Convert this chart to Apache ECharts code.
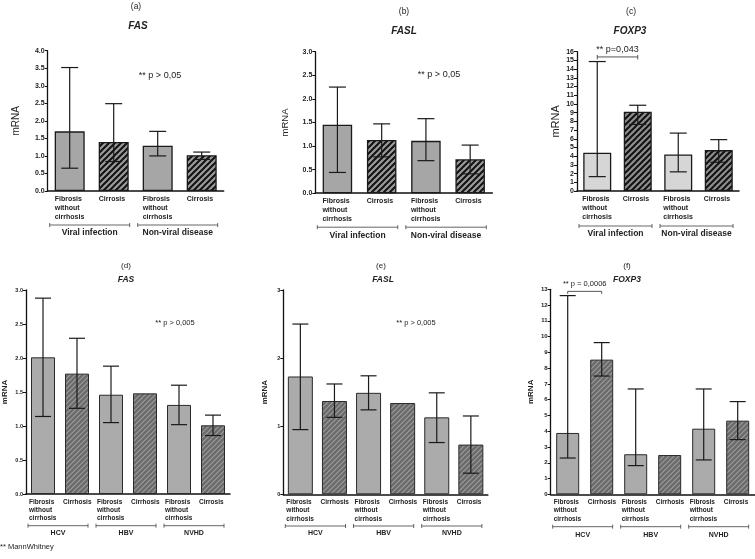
<!DOCTYPE html>
<html><head><meta charset="utf-8">
<script src="https://cdn.jsdelivr.net/npm/echarts@6/dist/echarts.min.js"></script>
<style>html,body{margin:0;padding:0;background:#fff}#c{width:755px;height:559px}</style>
</head><body><div id="c"></div>
<script>
// ---------- data ----------
const catsTop = ['Fibrosis\nwithout\ncirrhosis', 'Cirrosis', 'Fibrosis\nwithout\ncirrhosis', 'Cirrosis'];
const catsBottom = ['Fibrosis\nwithout\ncirrhosis', 'Cirrhosis', 'Fibrosis\nwithout\ncirrhosis', 'Cirrhosis', 'Fibrosis\nwithout\ncirrhosis', 'Cirrosis'];
const groupsTop = ['Viral infection', 'Non-viral disease'];
const groupsTopStart = [0, 2];
const groupsTopEnd = [1, 3];
const groupsBottom = ['HCV', 'HBV', 'NVHD'];
const groupsBottomStart = [0, 2, 4];
const groupsBottomEnd = [1, 3, 5];

const aMean = [1.70, 1.40, 1.29, 1.02];
const aLow  = [0.65, 0.84, 1.00, 0.90];
const aHigh = [3.52, 2.49, 1.70, 1.11];

const bMean = [1.45, 1.13, 1.11, 0.72];
const bLow  = [0.44, 0.77, 0.69, 0.41];
const bHigh = [2.25, 1.47, 1.58, 1.02];

const cMean = [4.4, 9.1, 4.2, 4.7];
const cLow  = [1.65, 7.65, 2.2, 3.3];
const cHigh = [14.87, 9.85, 6.65, 5.9];

const dMean = [2.01, 1.77, 1.46, 1.48, 1.31, 1.01];
const dLow  = [1.14, 1.26, 1.05, null, 1.02, 0.86];
const dHigh = [2.88, 2.29, 1.88, null, 1.60, 1.16];

const eMean = [1.73, 1.37, 1.49, 1.34, 1.13, 0.73];
const eLow  = [0.95, 1.13, 1.24, null, 0.76, 0.31];
const eHigh = [2.50, 1.62, 1.74, null, 1.49, 1.15];

const fMean = [3.89, 8.54, 2.54, 2.49, 4.16, 4.67];
const fLow  = [2.30, 7.50, 1.82, null, 2.18, 3.47];
const fHigh = [12.6, 9.62, 6.68, null, 6.68, 5.88];

const cBracket = [[0, 1, 15.4]];
const cBracketText = ['** p=0,043'];
const fBracket = [[0, 1, 12.87]];
const fBracketText = ['** p = 0,0006'];

const yMax = [4, 3, 16, 3, 3, 13];
const yInterval = [0.5, 0.5, 1, 0.5, 1, 1];

// ---------- styling ----------
const FONT = "'Liberation Sans', Arial, Helvetica, sans-serif";
function hatch(bg, fg, s, lw) {
  const c = document.createElement('canvas');
  c.width = s; c.height = s;
  const ctx = c.getContext('2d');
  ctx.fillStyle = bg; ctx.fillRect(0, 0, s, s);
  ctx.strokeStyle = fg; ctx.lineWidth = lw;
  ctx.beginPath();
  ctx.moveTo(0, s); ctx.lineTo(s, 0);
  ctx.moveTo(-1, 1); ctx.lineTo(1, -1);
  ctx.moveTo(s - 1, s + 1); ctx.lineTo(s + 1, s - 1);
  ctx.stroke();
  return { image: c, repeat: 'repeat' };
}
const hatchTop = hatch('#9b9b9b', '#111111', 6, 2);
const hatchC = hatch('#8e8e8e', '#111111', 6, 2);
const hatchBottom = hatch('#6a6a6a', '#9c9c9c', 5, 1.2);

const panels = [
  {mean: aMean, low: aLow, high: aHigh, cats: catsTop, grid: {left: 47.7, top: 50.7, width: 176, height: 140.3}, bw: 30, solid: '#a6a6a6', hatch: hatchTop, hIdx: [1, 3], fmt: v => v.toFixed(1), tickFs: 7, nameFs: 10, nameBold: false, nameGap: 26, labW: 30, labFs: 7, labLH: 8.7, border: '#1a1a1a', bwid: 1.3, cap: 17, gOff: 34, gTxt: 8, gFs: 8.5},
  {mean: bMean, low: bLow, high: bHigh, cats: catsTop, grid: {left: 315.3, top: 51.7, width: 177, height: 141.5}, bw: 29.5, solid: '#a6a6a6', hatch: hatchTop, hIdx: [1, 3], fmt: v => v.toFixed(1), tickFs: 7, nameFs: 9.5, nameBold: false, nameGap: 25, labW: 30, labFs: 7, labLH: 8.7, border: '#1a1a1a', bwid: 1.3, cap: 17, gOff: 34, gTxt: 8.5, gFs: 8.5},
  {mean: cMean, low: cLow, high: cHigh, cats: catsTop, grid: {left: 577, top: 51.7, width: 162, height: 139.3}, bw: 28, solid: '#d6d6d6', hatch: hatchC, hIdx: [1, 3], fmt: v => String(v), tickFs: 7, nameFs: 11, nameBold: false, nameGap: 16, labW: 30, labFs: 7, labLH: 8.7, border: '#1a1a1a', bwid: 1.3, cap: 17, gOff: 35, gTxt: 8, gFs: 8.5},
  {mean: dMean, low: dLow, high: dHigh, cats: catsBottom, grid: {left: 24, top: 290, width: 206, height: 204}, bw: 24, solid: '#ababab', hatch: hatchBottom, hIdx: [1, 3, 5], fmt: v => v.toFixed(1), tickFs: 5.5, nameFs: 8, nameBold: true, nameGap: 17, labW: 28, labFs: 6.5, labLH: 8.2, border: '#2a2a2a', bwid: 1, cap: 16, gOff: 31.7, gTxt: 7.5, gFs: 7},
  {mean: eMean, low: eLow, high: eHigh, cats: catsBottom, grid: {left: 283.3, top: 290, width: 204.6, height: 204.3}, bw: 25, solid: '#ababab', hatch: hatchBottom, hIdx: [1, 3, 5], fmt: v => String(v), tickFs: 5.5, nameFs: 8, nameBold: true, nameGap: 15, labW: 28, labFs: 6.5, labLH: 8.2, border: '#2a2a2a', bwid: 1, cap: 16, gOff: 31.7, gTxt: 7.5, gFs: 7},
  {mean: fMean, low: fLow, high: fHigh, cats: catsBottom, grid: {left: 550.7, top: 289.3, width: 204, height: 205}, bw: 23, solid: '#ababab', hatch: hatchBottom, hIdx: [1, 3, 5], fmt: v => String(v), tickFs: 6, nameFs: 8, nameBold: true, nameGap: 16, labW: 28, labFs: 6.5, labLH: 8.2, border: '#2a2a2a', bwid: 1, cap: 16, gOff: 32.4, gTxt: 8, gFs: 7}
];

const grid = [], xAxis = [], yAxis = [], series = [];
panels.forEach((p, i) => {
  grid.push(Object.assign({containLabel: false}, p.grid));
  xAxis.push({
    gridIndex: i, type: 'category', data: p.cats,
    axisLine: {lineStyle: {color: '#111', width: 1.5}},
    axisTick: {show: false},
    axisLabel: {
      interval: 0, margin: 4,
      formatter: v => v.split('\n').map(s => '{l|' + s + '}').join('\n'),
      rich: {l: {width: p.labW, align: 'left', fontSize: p.labFs, fontWeight: 'bold', lineHeight: p.labLH, color: '#222', fontFamily: FONT}}
    }
  });
  yAxis.push({
    gridIndex: i, type: 'value', min: 0, max: yMax[i], interval: yInterval[i],
    axisLine: {show: true, lineStyle: {color: '#111', width: 1.3}},
    axisTick: {show: true, length: 3, lineStyle: {color: '#111', width: 1}},
    splitLine: {show: false},
    axisLabel: {fontSize: p.tickFs, fontWeight: 'bold', color: '#222', margin: 3, fontFamily: FONT, formatter: p.fmt},
    name: 'mRNA', nameLocation: 'middle', nameGap: p.nameGap,
    nameTextStyle: {fontSize: p.nameFs, fontWeight: p.nameBold ? 'bold' : 'normal', color: '#222', fontFamily: FONT}
  });
  series.push({
    type: 'bar', xAxisIndex: i, yAxisIndex: i, barWidth: p.bw, z: 2,
    data: p.mean.map((m, k) => ({
      value: m,
      itemStyle: {color: p.hIdx.includes(k) ? p.hatch : p.solid, borderColor: p.border, borderWidth: p.bwid}
    })),
    silent: true
  });
  const err = p.mean.map((m, k) => [k, p.low[k], p.high[k]]).filter(d => d[1] != null);
  series.push({
    type: 'custom', xAxisIndex: i, yAxisIndex: i, z: 5, clip: false, silent: true,
    data: err,
    renderItem: (params, api) => {
      const x = api.value(0);
      const lo = api.coord([x, api.value(1)]);
      const hi = api.coord([x, api.value(2)]);
      const h = p.cap / 2;
      const st = {stroke: '#1a1a1a', lineWidth: 1.2};
      return {type: 'group', children: [
        {type: 'line', shape: {x1: lo[0], y1: lo[1], x2: hi[0], y2: hi[1]}, style: st},
        {type: 'line', shape: {x1: hi[0] - h, y1: hi[1], x2: hi[0] + h, y2: hi[1]}, style: st},
        {type: 'line', shape: {x1: lo[0] - h, y1: lo[1], x2: lo[0] + h, y2: lo[1]}, style: st}
      ]};
    }
  });
  const gNames = i < 3 ? groupsTop : groupsBottom;
  const gS = i < 3 ? groupsTopStart : groupsBottomStart;
  const gE = i < 3 ? groupsTopEnd : groupsBottomEnd;
  series.push({
    type: 'custom', xAxisIndex: i, yAxisIndex: i, z: 5, clip: false, silent: true,
    data: gS.map((s, k) => [s, gE[k]]),
    renderItem: (params, api) => {
      const a = api.coord([api.value(0), 0]);
      const b = api.coord([api.value(1), 0]);
      const bw = api.size([1, 0])[0];
      const x0 = a[0] - bw / 2 + 2, x1 = b[0] + bw / 2 - 6, y = a[1] + p.gOff;
      const st = {stroke: '#555', lineWidth: 0.9};
      return {type: 'group', children: [
        {type: 'line', shape: {x1: x0, y1: y, x2: x1, y2: y}, style: st},
        {type: 'line', shape: {x1: x0, y1: y - 2, x2: x0, y2: y + 2}, style: st},
        {type: 'line', shape: {x1: x1, y1: y - 2, x2: x1, y2: y + 2}, style: st},
        {type: 'text', style: {text: gNames[params.dataIndex], x: (x0 + x1) / 2, y: y + p.gTxt, align: 'center', verticalAlign: 'middle', fontSize: p.gFs, fontWeight: 'bold', fontFamily: FONT, fill: '#222'}}
      ]};
    }
  });
});

function bracketSeries(i, data, texts, fs, down) {
  return {
    type: 'custom', xAxisIndex: i, yAxisIndex: i, z: 6, clip: false, silent: true,
    data: data,
    renderItem: (params, api) => {
      const a = api.coord([api.value(0), api.value(2)]);
      const b = api.coord([api.value(1), api.value(2)]);
      const st = {stroke: '#444', lineWidth: 0.9};
      return {type: 'group', children: [
        {type: 'line', shape: {x1: a[0], y1: a[1], x2: b[0], y2: b[1]}, style: st},
        {type: 'line', shape: {x1: a[0], y1: a[1] - (down ? 0 : 2), x2: a[0], y2: a[1] + 2.5}, style: st},
        {type: 'line', shape: {x1: b[0], y1: b[1] - (down ? 0 : 2), x2: b[0], y2: b[1] + 2.5}, style: st},
        {type: 'text', style: {text: texts[params.dataIndex], x: (a[0] + b[0]) / 2, y: a[1] - 7, align: 'center', verticalAlign: 'middle', fontSize: fs, fontFamily: FONT, fill: '#222'}}
      ]};
    }
  };
}
series.push(bracketSeries(2, cBracket, cBracketText, 9, false));
series.push(bracketSeries(5, fBracket, fBracketText, 7.5, true));

function txt(x, y, t, fs, weight, style) {
  return {type: 'text', x: x, y: y, style: {text: t, fontSize: fs, fontWeight: weight || 'normal', fontStyle: style || 'normal', fontFamily: FONT, fill: '#222', align: 'center', verticalAlign: 'middle'}};
}
const graphic = [
  txt(136, 7, '(a)', 8.5), txt(138, 26, 'FAS', 10, 'bold', 'italic'),
  txt(404, 12, '(b)', 8.5), txt(404, 31, 'FASL', 10, 'bold', 'italic'),
  txt(631, 12, '(c)', 8.5), txt(630, 31, 'FOXP3', 10, 'bold', 'italic'),
  txt(126, 266, '(d)', 8), txt(126, 280, 'FAS', 8.5, 'bold', 'italic'),
  txt(381, 266, '(e)', 8), txt(383, 280, 'FASL', 8.5, 'bold', 'italic'),
  txt(627, 266, '(f)', 8), txt(627, 280, 'FOXP3', 8.5, 'bold', 'italic'),
  txt(160, 76, '** p > 0,05', 9), txt(439, 75, '** p > 0,05', 9),
  txt(175, 323, '** p > 0,005', 7.5), txt(416, 323, '** p > 0,005', 7.5),
  {type: 'text', x: 0, y: 547, style: {text: '** MannWhitney', fontSize: 7.5, fontFamily: FONT, fill: '#222', align: 'left', verticalAlign: 'middle'}}
];

const chart = echarts.init(document.getElementById('c'), null, {renderer: 'canvas'});
chart.setOption({animation: false, backgroundColor: '#fff', grid, xAxis, yAxis, series, graphic});
</script></body></html>
